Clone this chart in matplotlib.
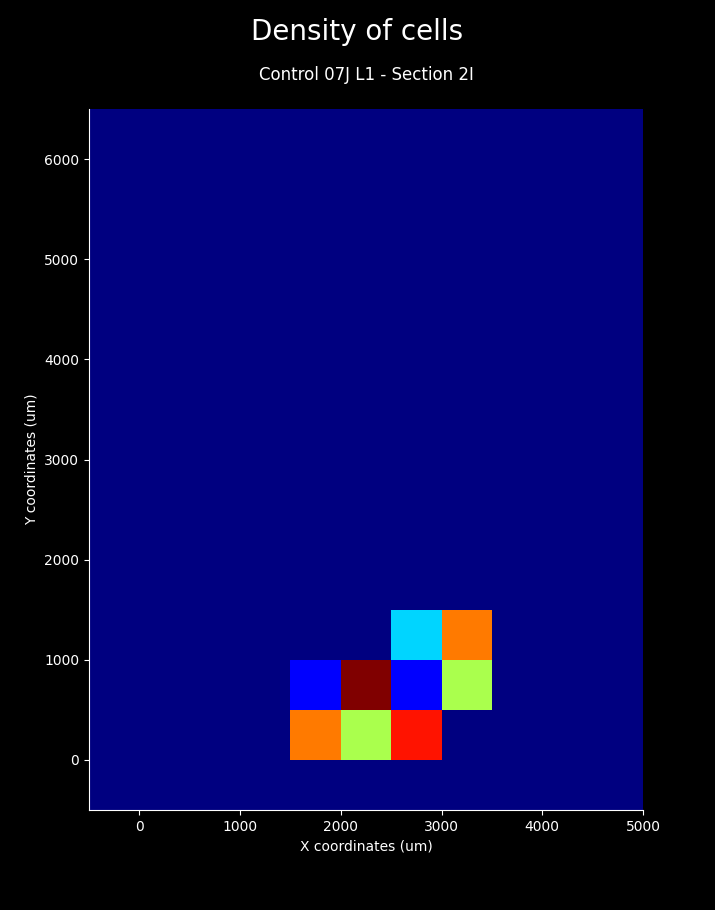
import numpy as np
import matplotlib
matplotlib.use("Agg")
import matplotlib.pyplot as plt

# bin grid (um)
bin_size = 500
x_edges = np.arange(-500, 5001, bin_size)
y_edges = np.arange(-500, 6501, bin_size)

# occupied bins: lower-left corner and cell count
cell_x = [1500, 2000, 2500, 1500, 2000, 2500, 3000, 2500, 3000]
cell_y = [0, 0, 0, 500, 500, 500, 500, 1000, 1000]
cell_count = [7, 5, 8, 1, 9, 1, 5, 3, 7]

counts = np.zeros((len(y_edges) - 1, len(x_edges) - 1))
for x, y, c in zip(cell_x, cell_y, cell_count):
    i = np.searchsorted(y_edges, y, side="right") - 1
    j = np.searchsorted(x_edges, x, side="right") - 1
    counts[i, j] = c

plt.style.use("dark_background")
fig = plt.figure(figsize=(7.15, 9.1), dpi=100)
ax = fig.add_axes([0.1245, 0.1099, 0.7748, 0.7703])

ax.pcolormesh(x_edges, y_edges, counts, cmap="jet", vmin=0, vmax=max(cell_count))
ax.set_xlim(-500, 5000)
ax.set_ylim(-500, 6500)
ax.set_xticks(np.arange(0, 5001, 1000))
ax.set_yticks(np.arange(0, 6001, 1000))
ax.spines["top"].set_visible(False)
ax.spines["right"].set_visible(False)

ax.set_xlabel("X coordinates (um)")
ax.set_ylabel("Y coordinates (um)")
ax.set_title("Control 07J L1 - Section 2I", fontsize=12, pad=21)
fig.suptitle("Density of cells", fontsize=20, y=0.98)

fig.savefig("out.png", dpi=100, facecolor="black")
